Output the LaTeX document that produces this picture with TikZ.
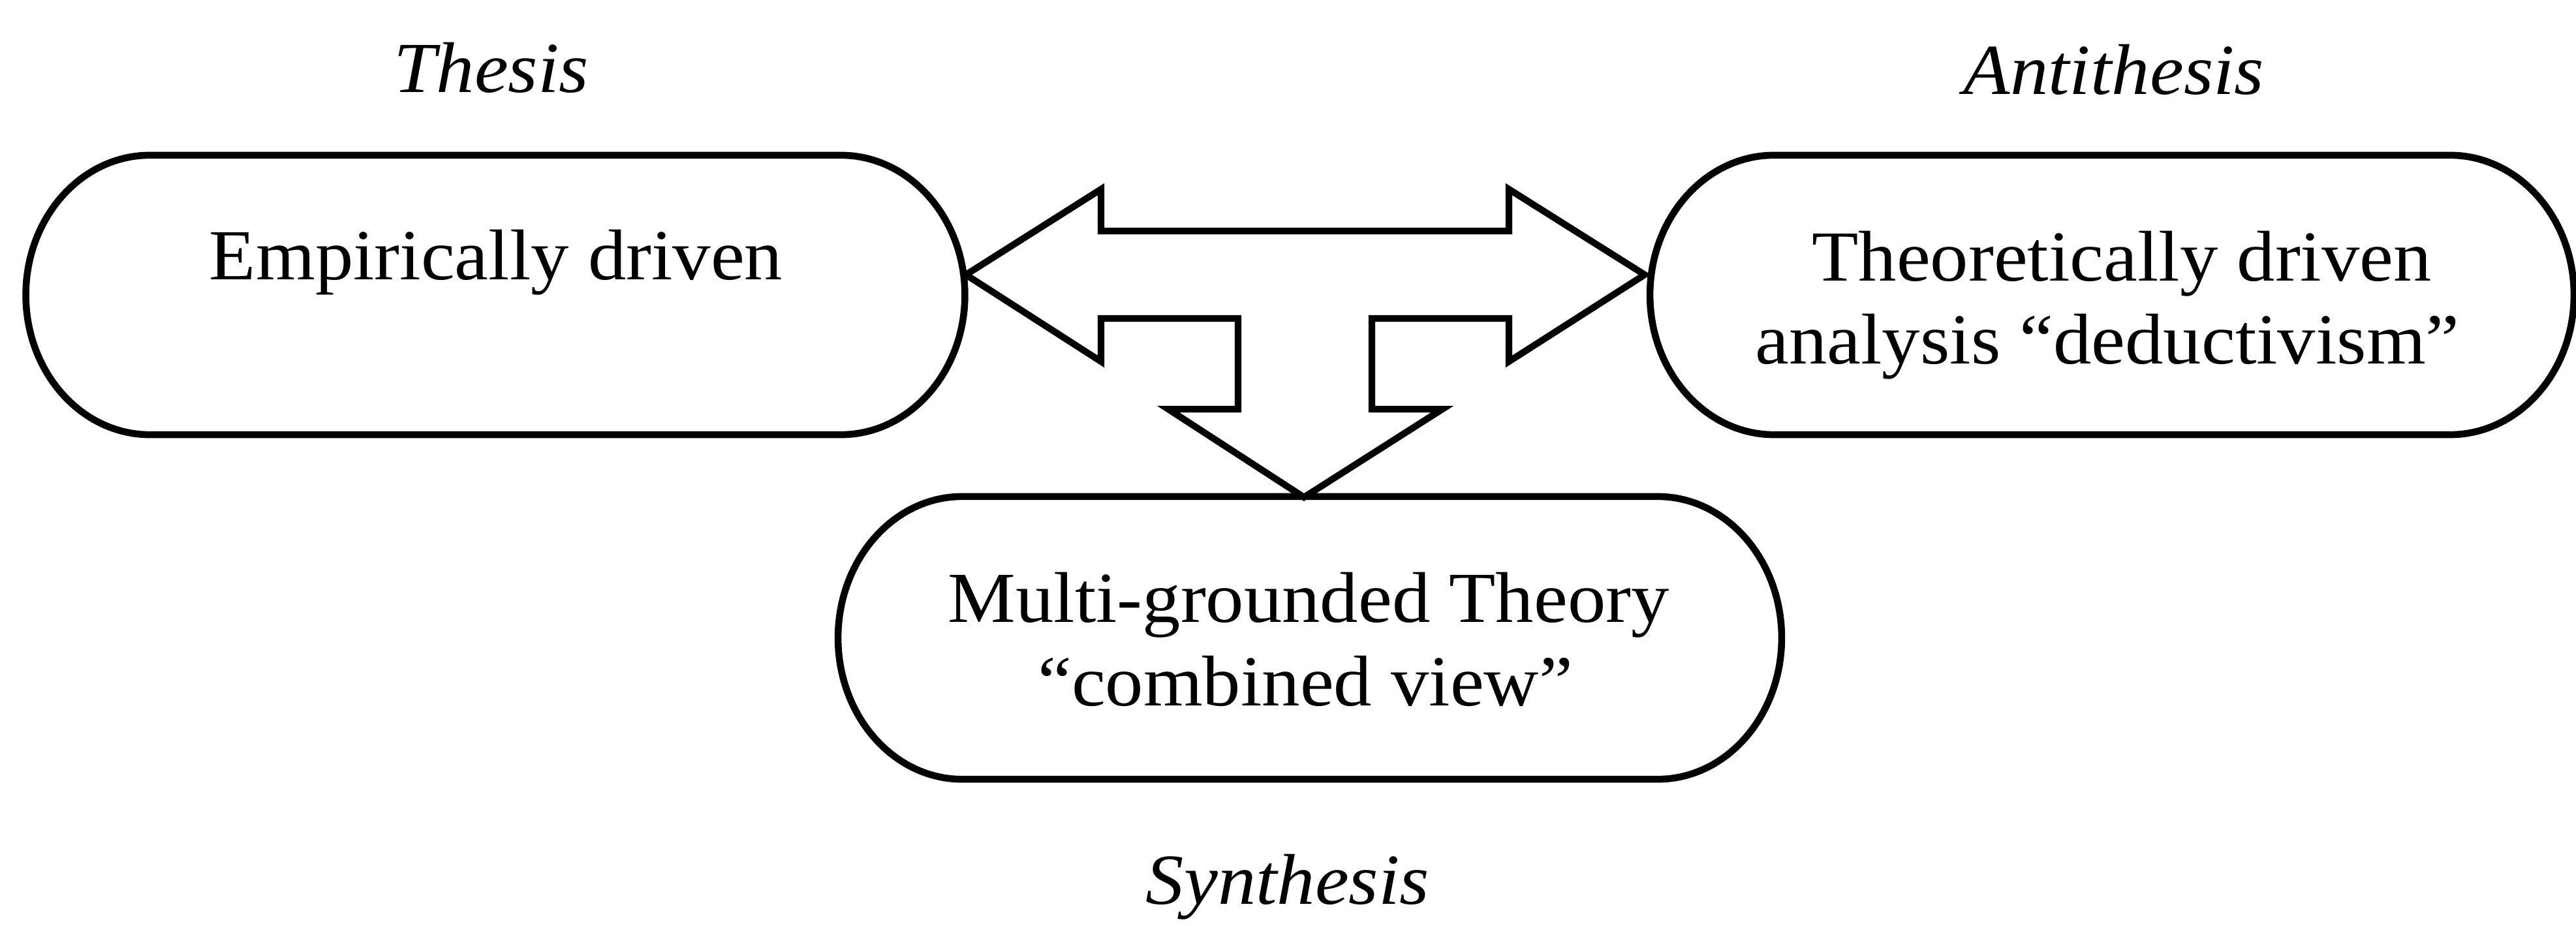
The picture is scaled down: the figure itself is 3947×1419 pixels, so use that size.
\documentclass[tikz,border=0pt]{standalone}
\usepackage{fontspec}
\setmainfont{Liberation Serif}[FakeStretch=1.06]
\newcommand{\drawstad}[2]{%
  \draw[outl] ([xshift=1.9cm]#1.north west) -- ([xshift=-1.9cm]#1.north east)
    arc[start angle=90,end angle=-90,x radius=1.9cm,y radius=#2]
    -- ([xshift=1.9cm]#1.south west)
    arc[start angle=270,end angle=90,x radius=1.9cm,y radius=#2] -- cycle;}
\begin{document}
\begin{tikzpicture}[x=0.01cm,y=-0.01cm,
  outl/.style={line width=3pt,line join=round},
  arrowshape/.style={line width=2.9pt,line join=miter,fill=white},
  boxarea/.style={inner sep=0pt,outer sep=0pt,draw=none},
  txt/.style={font=\fontsize{31.3pt}{36pt}\selectfont,inner sep=0pt,anchor=base},
  itl/.style={font=\fontsize{31.3pt}{36pt}\selectfont\itshape,inner sep=0pt,anchor=base}]
\useasboundingbox (0,0) rectangle (3947,1419);
% box areas
\node[boxarea,minimum width=14.38cm,minimum height=4.28cm] (emp) at (759,452) {};
\node[boxarea,minimum width=14.15cm,minimum height=4.28cm] (theo) at (3236,452) {};
\node[boxarea,minimum width=14.45cm,minimum height=4.33cm] (multi) at (2007,977.5) {};
\drawstad{emp}{2.14cm}
\drawstad{theo}{2.14cm}
\drawstad{multi}{2.165cm}
% three-headed arrow
\draw[arrowshape] (1480,421) -- (1687,290) -- (1687,354) -- (2312,354) -- (2312,290)
  -- (2520,421) -- (2312,554) -- (2312,488) -- (2102,488) -- (2102,627)
  -- (2210,627) -- (1998,762) -- (1790,627) -- (1897,627) -- (1897,488)
  -- (1687,488) -- (1687,554) -- cycle;
% texts
\node[itl] (thesis) at (753,142) {Thesis};
\node[itl] (anti) at (3239,145) {Antithesis};
\node[itl] (synth) at (1973,1385) {Synthesis};
\node[txt] (emptxt) at (760,429) {Empirically driven};
\node[txt] (theo1) at (3251,431) {Theoretically driven};
\node[txt] (theo2) at (3229,558) {analysis “deductivism”};
\node[txt] (multi1) at (2005,954) {Multi-grounded Theory};
\node[txt] (multi2) at (2000,1081) {“combined view”};
\end{tikzpicture}
\end{document}
